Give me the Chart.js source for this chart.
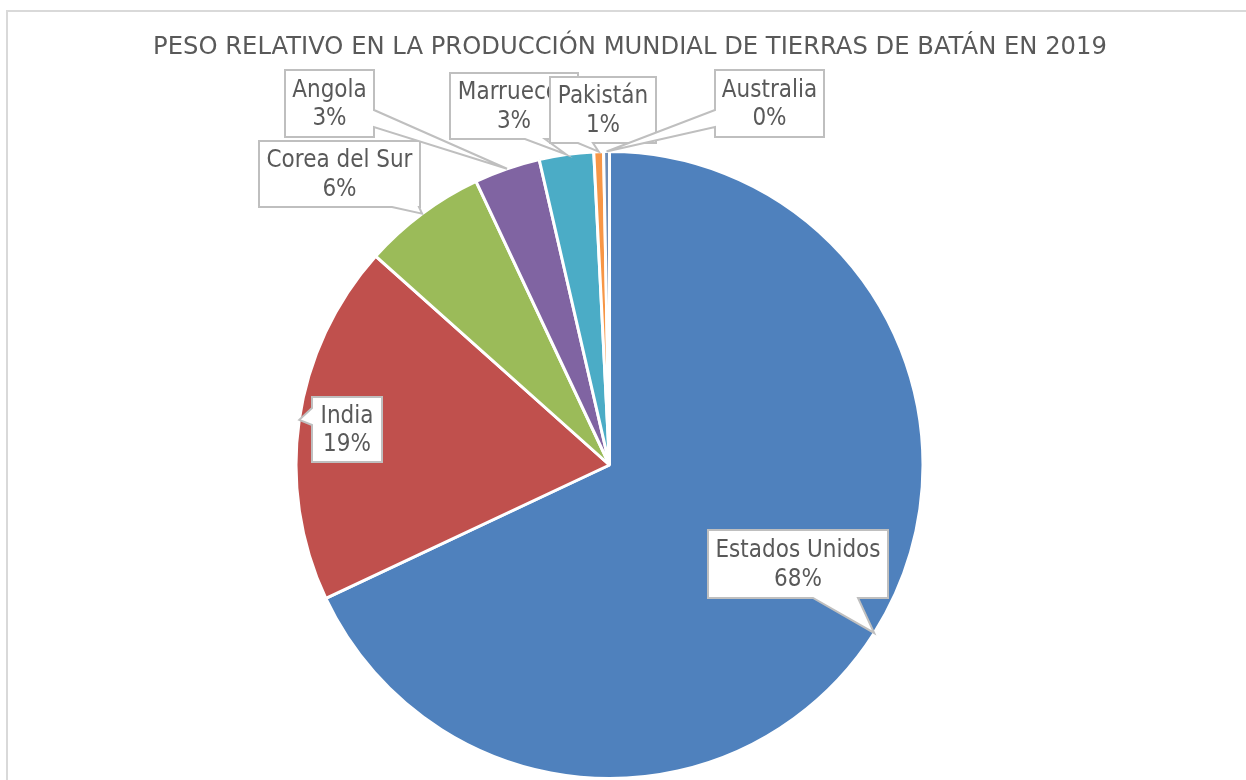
<!DOCTYPE html>
<html>
<head>
<meta charset="utf-8">
<script src="https://cdn.jsdelivr.net/npm/chart.js@4.4.1/dist/chart.umd.min.js"></script>
<style>
  body { margin: 0; background: #fff; }
  canvas { display: block; }
</style>
</head>
<body>
<canvas id="pie" width="1246" height="780"></canvas>
<script>
// ===== Data =====
const countries = ["Estados Unidos", "India", "Corea del Sur", "Angola", "Marruecos", "Pakistán", "Australia"];
const shares = [68.0, 18.6, 6.4, 3.4, 2.8, 0.5, 0.3];
const sliceColors = ["#4F81BD", "#C0504D", "#9BBB59", "#8064A2", "#4BACC6", "#F79646", "#6E8CB5"];
const chartTitle = "PESO RELATIVO EN LA PRODUCCIÓN MUNDIAL DE TIERRAS DE BATÁN EN 2019";

// callout boxes (layout only), same order as countries
const callouts = [
  { x: 708, y: 530, w: 180, h: 68, side: "bottom", a1: 813, a2: 858 },
  { x: 312, y: 397, w: 70,  h: 65, side: "left",   a1: 408, a2: 425 },
  { x: 259, y: 141, w: 161, h: 66, side: "bottom", a1: 392, a2: 419 },
  { x: 285, y: 70,  w: 89,  h: 67, side: "right",  a1: 110, a2: 127 },
  { x: 450, y: 73,  w: 128, h: 66, side: "bottom", a1: 525, a2: 545 },
  { x: 550, y: 77,  w: 106, h: 66, side: "bottom", a1: 578, a2: 593 },
  { x: 715, y: 70,  w: 109, h: 67, side: "left",   a1: 110, a2: 127 }
];

const FONT = "24.5px 'DejaVu Sans'";
const TEXT_COLOR = "#595959";

function squeezedText(ctx, txt, x, y, sx) {
  ctx.save();
  ctx.translate(x, y);
  ctx.scale(sx, 1);
  ctx.fillText(txt, 0, 0);
  ctx.restore();
}

function calloutPath(ctx, b, tip) {
  const { x, y, w, h, side, a1, a2 } = b;
  ctx.beginPath();
  ctx.moveTo(x, y);
  if (side === "top") { ctx.lineTo(a1, y); ctx.lineTo(tip.x, tip.y); ctx.lineTo(a2, y); }
  ctx.lineTo(x + w, y);
  if (side === "right") { ctx.lineTo(x + w, a1); ctx.lineTo(tip.x, tip.y); ctx.lineTo(x + w, a2); }
  ctx.lineTo(x + w, y + h);
  if (side === "bottom") { ctx.lineTo(a2, y + h); ctx.lineTo(tip.x, tip.y); ctx.lineTo(a1, y + h); }
  ctx.lineTo(x, y + h);
  if (side === "left") { ctx.lineTo(x, a2); ctx.lineTo(tip.x, tip.y); ctx.lineTo(x, a1); }
  ctx.closePath();
}

// frame, title and callout labels
const decorPlugin = {
  id: "decor",
  beforeDraw(chart) {
    const ctx = chart.ctx;
    ctx.save();
    ctx.fillStyle = "#fff";
    ctx.fillRect(0, 0, chart.width, chart.height);
    ctx.strokeStyle = "#d9d9d9";
    ctx.lineWidth = 2;
    ctx.strokeRect(7, 11, chart.width + 50, chart.height + 50);
    ctx.restore();
  },
  afterDraw(chart) {
    const ctx = chart.ctx;
    ctx.save();
    ctx.font = FONT;
    ctx.fillStyle = TEXT_COLOR;
    ctx.textAlign = "center";
    ctx.textBaseline = "middle";
    squeezedText(ctx, chartTitle, 630, 48, 0.99);

    const meta = chart.getDatasetMeta(0);
    const total = shares.reduce((a, b) => a + b, 0);
    meta.data.forEach((arc, i) => {
      const p = arc.getProps(["x", "y", "startAngle", "endAngle", "outerRadius"], true);
      const mid = (p.startAngle + p.endAngle) / 2;
      const tip = { x: p.x + Math.cos(mid) * p.outerRadius, y: p.y + Math.sin(mid) * p.outerRadius };
      const b = callouts[i];
      calloutPath(ctx, b, tip);
      ctx.fillStyle = "#fff";
      ctx.fill();
      ctx.strokeStyle = "#bfbfbf";
      ctx.lineWidth = 2;
      ctx.lineJoin = "miter";
      ctx.stroke();

      const pct = Math.round(shares[i] / total * 100 + 1e-9) + "%";
      const cx = b.x + b.w / 2, cy = b.y + b.h / 2;
      ctx.fillStyle = TEXT_COLOR;
      squeezedText(ctx, countries[i], cx, cy - 13, 0.88);
      squeezedText(ctx, pct, cx, cy + 15.5, 0.88);
    });
    ctx.restore();
  }
};

new Chart(document.getElementById("pie"), {
  type: "pie",
  data: {
    labels: countries,
    datasets: [{
      data: shares,
      backgroundColor: sliceColors,
      borderColor: "#ffffff",
      borderWidth: 3
    }]
  },
  options: {
    responsive: false,
    animation: false,
    layout: { padding: { left: 292, right: 319, top: 150, bottom: -5 } },
    plugins: {
      legend: { display: false },
      tooltip: { enabled: false },
      title: { display: false }
    }
  },
  plugins: [decorPlugin]
});
</script>
</body>
</html>
